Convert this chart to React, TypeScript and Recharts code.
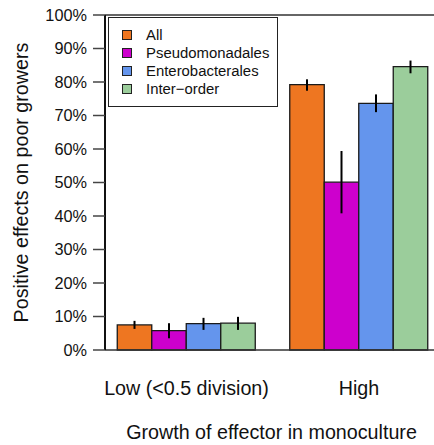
import { BarChart, Bar, XAxis, YAxis, ErrorBar, Legend, ReferenceLine } from 'recharts';

const groups = ['Low (<0.5 division)', 'High'];
const seriesNames = ['All', 'Pseudomonadales', 'Enterobacterales', 'Inter\u2212order'];
const seriesColors = ['#EE7621', '#CD00CD', '#6495ED', '#9BCD9B'];

// proportions per group, with lower / upper bounds of the error bars
const allVals = [0.075, 0.792];
const allLow = [0.063, 0.774];
const allHigh = [0.087, 0.808];
const pseudoVals = [0.058, 0.501];
const pseudoLow = [0.035, 0.408];
const pseudoHigh = [0.080, 0.594];
const enteroVals = [0.079, 0.736];
const enteroLow = [0.060, 0.710];
const enteroHigh = [0.096, 0.763];
const interVals = [0.080, 0.846];
const interLow = [0.060, 0.826];
const interHigh = [0.099, 0.864];

const yTicks = [0, 0.1, 0.2, 0.3, 0.4, 0.5, 0.6, 0.7, 0.8, 0.9, 1];

const series = [
    { key: 'all', vals: allVals, lo: allLow, hi: allHigh },
    { key: 'pseudo', vals: pseudoVals, lo: pseudoLow, hi: pseudoHigh },
    { key: 'entero', vals: enteroVals, lo: enteroLow, hi: enteroHigh },
    { key: 'inter', vals: interVals, lo: interLow, hi: interHigh },
];

const data = groups.map((g, i) => {
    const row: any = { x: i + 1, group: g };
    series.forEach((s) => {
        row[s.key] = s.vals[i];
        row[s.key + 'Err'] = [s.vals[i] - s.lo[i], s.hi[i] - s.vals[i]];
    });
    return row;
});

const font = '"Liberation Sans", Arial, Helvetica, sans-serif';

const LegendBox = ({ payload }: any) => {
    // keep the series order, not the alphabetical one
    const items = [...(payload || [])].sort(
        (a: any, b: any) => seriesNames.indexOf(a.value) - seriesNames.indexOf(b.value)
    );
    return (
        <div
            style={{
                boxSizing: 'border-box',
                width: 170,
                height: 90,
                border: '1.5px solid #222',
                background: '#fff',
                paddingTop: 8,
                fontFamily: font,
                fontSize: 14.9,
                color: '#111',
            }}
        >
            {items.map((p: any) => (
                <div key={p.value} style={{ display: 'flex', alignItems: 'center', height: 18 }}>
                    <span
                        style={{
                            boxSizing: 'border-box',
                            width: 10,
                            height: 10,
                            marginLeft: 12.5,
                            background: p.color,
                            border: '1.2px solid #222',
                        }}
                    />
                    <span style={{ marginLeft: 14.5, lineHeight: '18px' }}>{p.value}</span>
                </div>
            ))}
        </div>
    );
};

const YTitle = ({ viewBox }: any) => {
    const cx = 27.5;
    const cy = viewBox.y + viewBox.height / 2;
    return (
        <text
            x={cx}
            y={cy}
            transform={`rotate(-90, ${cx}, ${cy})`}
            textAnchor="middle"
            fontSize={19.7}
            fontFamily={font}
            fill="#111"
        >
            Positive effects on poor growers
        </text>
    );
};

const XTitle = ({ viewBox }: any) => (
    <text
        x={viewBox.x + viewBox.width / 2 + 2}
        y={439}
        textAnchor="middle"
        fontSize={19.7}
        fontFamily={font}
        fill="#111"
    >
        Growth of effector in monoculture
    </text>
);

export default function App() {
    return (
        <div style={{ position: 'absolute', left: 0, top: 0, width: 434, height: 445, background: '#fff' }}>
            <BarChart
                width={434}
                height={445}
                data={data}
                margin={{ top: 15, right: 0, left: 0, bottom: 0 }}
                barGap={0}
                barSize={34.5}
            >
                <XAxis
                    dataKey="x"
                    type="number"
                    domain={[0.5275, 2.4348]}
                    allowDataOverflow
                    ticks={[1, 2]}
                    interval={0}
                    tickFormatter={(v: number) => groups[v - 1]}
                    height={95}
                    tickLine={false}
                    tickSize={0}
                    tickMargin={31}
                    axisLine={{ stroke: '#333', strokeWidth: 1.5 }}
                    tick={{ fontSize: 19.7, fontFamily: font, fill: '#111' }}
                    label={<XTitle />}
                />
                <YAxis
                    domain={[0, 1]}
                    ticks={yTicks}
                    interval={0}
                    width={105}
                    tickSize={12}
                    tickMargin={6}
                    tickFormatter={(v: number) => `${Math.round(v * 100)}%`}
                    axisLine={{ stroke: '#111', strokeWidth: 2 }}
                    tickLine={{ stroke: '#444', strokeWidth: 1.5 }}
                    tick={{ fontSize: 16.3, fontFamily: font, fill: '#111' }}
                    label={<YTitle />}
                />
                <ReferenceLine y={1} stroke="#333" strokeWidth={1.5} />
                <Legend
                    layout="vertical"
                    align="center"
                    verticalAlign="middle"
                    content={<LegendBox />}
                    wrapperStyle={{ left: 108, top: 17, width: 170 }}
                />
                {series.map((s, i) => (
                    <Bar
                        key={s.key}
                        dataKey={s.key}
                        name={seriesNames[i]}
                        fill={seriesColors[i]}
                        stroke="#1a1a1a"
                        strokeWidth={1.3}
                        isAnimationActive={false}
                    >
                        <ErrorBar dataKey={s.key + 'Err'} width={0} stroke="#000" strokeWidth={2} />
                    </Bar>
                ))}
            </BarChart>
        </div>
    );
}
